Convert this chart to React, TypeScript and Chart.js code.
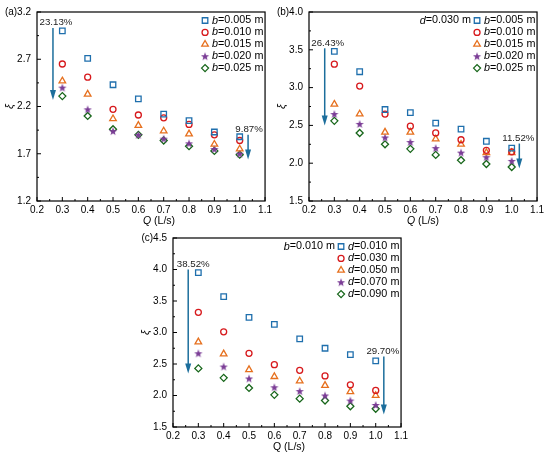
import { useEffect, useRef } from 'react';
import { Chart, registerables } from 'chart.js';
import { drawPoint } from 'chart.js/helpers';

Chart.register(...registerables);

// flow rate Q (L/s)
const flowRates = [0.3, 0.4, 0.5, 0.6, 0.7, 0.8, 0.9, 1.0];
const xTicks = [0.2, 0.3, 0.4, 0.5, 0.6, 0.7, 0.8, 0.9, 1.0, 1.1];
const yTicksA = [1.2, 1.7, 2.2, 2.7, 3.2];
const yTicksB = [1.5, 2.0, 2.5, 3.0, 3.5, 4.0];
const yTicksC = [1.5, 2.0, 2.5, 3.0, 3.5, 4.0, 4.5];

// (a) slit width b
const labelsA = ['b=0.005 m', 'b=0.010 m', 'b=0.015 m', 'b=0.020 m', 'b=0.025 m'];
const a_b005 = [3.0, 2.71, 2.43, 2.28, 2.12, 2.05, 1.93, 1.88];
const a_b010 = [2.65, 2.51, 2.17, 2.11, 2.08, 2.01, 1.9, 1.84];
const a_b015 = [2.47, 2.33, 2.07, 2.0, 1.94, 1.91, 1.8, 1.75];
const a_b020 = [2.4, 2.17, 1.94, 1.9, 1.86, 1.81, 1.75, 1.7];
const a_b025 = [2.31, 2.1, 1.96, 1.9, 1.84, 1.78, 1.73, 1.69];

// (b) d = 0.030 m
const labelsB = labelsA;
const b_b005 = [3.48, 3.21, 2.71, 2.67, 2.53, 2.45, 2.29, 2.2];
const b_b010 = [3.31, 3.02, 2.65, 2.49, 2.4, 2.31, 2.17, 2.15];
const b_b015 = [2.78, 2.65, 2.41, 2.41, 2.32, 2.25, 2.14, 2.14];
const b_b020 = [2.65, 2.52, 2.34, 2.28, 2.2, 2.14, 2.08, 2.03];
const b_b025 = [2.56, 2.4, 2.25, 2.19, 2.11, 2.04, 1.99, 1.95];

// (c) b = 0.010 m
const labelsC = ['d=0.010 m', 'd=0.030 m', 'd=0.050 m', 'd=0.070 m', 'd=0.090 m'];
const c_d010 = [3.95, 3.57, 3.24, 3.13, 2.9, 2.75, 2.65, 2.55];
const c_d030 = [3.32, 3.01, 2.67, 2.49, 2.4, 2.31, 2.17, 2.08];
const c_d050 = [2.85, 2.66, 2.41, 2.3, 2.23, 2.16, 2.06, 2.0];
const c_d070 = [2.67, 2.46, 2.27, 2.13, 2.07, 2.0, 1.92, 1.85];
const c_d090 = [2.43, 2.28, 2.12, 2.01, 1.95, 1.92, 1.83, 1.79];

// reduction arrows
const arrowsA = [
  { q: 0.263, from: 3.03, to: 2.27, text: '23.13%', dx: 3 },
  { q: 1.033, from: 1.9, to: 1.64, text: '9.87%', dx: 1 },
];
const arrowsB = [
  { q: 0.262, from: 3.52, to: 2.5, text: '26.43%', dx: 3 },
  { q: 1.03, from: 2.26, to: 1.93, text: '11.52%', dx: -1 },
];
const arrowsC = [
  { q: 0.26, from: 4.0, to: 2.35, text: '38.52%', dx: 5 },
  { q: 1.032, from: 2.62, to: 1.7, text: '29.70%', dx: -1 },
];

const FONT = '"Liberation Sans", Arial, sans-serif';
const colors = ['#1f6fad', '#d7191c', '#e6701e', '#7b3d96', '#17661a'];
const arrowColor = '#1c6e9c';

function makeStar(color: string) {
  const c = document.createElement('canvas');
  c.width = 10;
  c.height = 10;
  const g = c.getContext('2d')!;
  g.beginPath();
  for (let i = 0; i < 10; i++) {
    const r = i % 2 === 0 ? 4.3 : 1.8;
    const a = -Math.PI / 2 + (i * Math.PI) / 5;
    const px = 5 + r * Math.cos(a);
    const py = 5.4 + r * Math.sin(a);
    if (i === 0) g.moveTo(px, py);
    else g.lineTo(px, py);
  }
  g.closePath();
  g.fillStyle = color;
  g.fill();
  return c;
}

function italicLead(ctx: CanvasRenderingContext2D, s: string, x: number, y: number, size: number, align: 'left' | 'right' | 'center', leadItalic = true) {
  const lead = s[0];
  const rest = s.slice(1);
  ctx.font = `${leadItalic ? 'italic ' : ''}${size}px ${FONT}`;
  const w1 = ctx.measureText(lead).width;
  ctx.font = `${size}px ${FONT}`;
  const w2 = ctx.measureText(rest).width;
  let x0 = x;
  if (align === 'right') x0 = x - w1 - w2;
  if (align === 'center') x0 = x - (w1 + w2) / 2;
  ctx.textAlign = 'left';
  ctx.textBaseline = 'middle';
  ctx.font = `${leadItalic ? 'italic ' : ''}${size}px ${FONT}`;
  ctx.fillText(lead, x0, y);
  ctx.font = `${size}px ${FONT}`;
  ctx.fillText(rest, x0 + w1, y);
}

type Arrow = { q: number; from: number; to: number; text: string; dx: number };

type PanelProps = {
  left: number;
  top: number;
  tag: string;
  yTicks: number[];
  series: number[][];
  labels: string[];
  header?: string;
  arrows: Arrow[];
  italicQ: boolean;
  titleDx: number;
};

function Panel({ left, top, tag, yTicks, series, labels, header, arrows, italicQ, titleDx }: PanelProps) {
  const ref = useRef<HTMLCanvasElement | null>(null);

  useEffect(() => {
    if (!ref.current) return;
    const star = makeStar(colors[3]);
    const styles: any[] = ['rect', 'circle', 'triangle', star, 'rectRot'];
    const radii = [3.9, 3.0, 3.8, 4, 3.5];

    const panelPlugin = {
      id: 'panelDecor',
      afterDraw(chart: any) {
        const ctx: CanvasRenderingContext2D = chart.ctx;
        const area = chart.chartArea;
        const xs = chart.scales.x;
        const ys = chart.scales.y;
        ctx.save();
        // frame
        ctx.strokeStyle = '#000';
        ctx.lineWidth = 1.2;
        ctx.strokeRect(area.left, area.top, area.right - area.left, area.bottom - area.top);
        // inward ticks
        ctx.lineWidth = 1;
        ctx.beginPath();
        xTicks.forEach((v, i) => {
          const px = xs.getPixelForValue(v);
          ctx.moveTo(px, area.bottom);
          ctx.lineTo(px, area.bottom - 4);
          if (i < xTicks.length - 1) {
            const pm = xs.getPixelForValue((v + xTicks[i + 1]) / 2);
            ctx.moveTo(pm, area.bottom);
            ctx.lineTo(pm, area.bottom - 2);
          }
        });
        yTicks.forEach((v, i) => {
          const py = ys.getPixelForValue(v);
          ctx.moveTo(area.left, py);
          ctx.lineTo(area.left + 4, py);
          if (i < yTicks.length - 1) {
            const pm = ys.getPixelForValue((v + yTicks[i + 1]) / 2);
            ctx.moveTo(area.left, pm);
            ctx.lineTo(area.left + 2, pm);
          }
        });
        ctx.stroke();

        // legend
        ctx.fillStyle = '#000';
        const mx = area.right - 60;
        labels.forEach((lab, i) => {
          const y = area.top + 8.5 + i * 11.9;
          ctx.strokeStyle = colors[i];
          ctx.fillStyle = 'rgba(0,0,0,0)';
          ctx.lineWidth = 1.3;
          drawPoint(ctx, { pointStyle: styles[i], radius: radii[i], borderWidth: 1.3, rotation: 0 } as any, mx, y);
          ctx.fillStyle = '#000';
          italicLead(ctx, lab, mx + 7, y, 10.8, 'left');
        });
        if (header) {
          ctx.fillStyle = '#000';
          italicLead(ctx, header, mx - 6, area.top + 8.5, 10.8, 'right');
        }

        // arrows
        arrows.forEach((a) => {
          const px = xs.getPixelForValue(a.q);
          const y1 = ys.getPixelForValue(a.from);
          const y2 = ys.getPixelForValue(a.to);
          ctx.strokeStyle = arrowColor;
          ctx.fillStyle = arrowColor;
          ctx.lineWidth = 1.5;
          ctx.beginPath();
          ctx.moveTo(px, y1);
          ctx.lineTo(px, y2 - 8);
          ctx.stroke();
          ctx.beginPath();
          ctx.moveTo(px - 3, y2 - 10);
          ctx.lineTo(px + 3, y2 - 10);
          ctx.lineTo(px, y2);
          ctx.closePath();
          ctx.fill();
          ctx.fillStyle = '#222';
          ctx.font = `9.7px ${FONT}`;
          ctx.textAlign = 'center';
          ctx.textBaseline = 'bottom';
          ctx.fillText(a.text, px + a.dx, y1 - 0.5);
        });

        // panel tag, left of the top tick label
        ctx.fillStyle = '#000';
        ctx.font = `10px ${FONT}`;
        const topLabel = yTicks[yTicks.length - 1].toFixed(1);
        const wTop = ctx.measureText(topLabel).width;
        ctx.textAlign = 'right';
        ctx.textBaseline = 'middle';
        ctx.fillText(tag, area.left - 6 - wTop, ys.getPixelForValue(yTicks[yTicks.length - 1]));

        // axis titles
        italicLead(ctx, 'Q (L/s)', (area.left + area.right) / 2 + titleDx, area.bottom + 20, 10.5, 'center', italicQ);
        ctx.save();
        ctx.translate(10, (area.top + area.bottom) / 2);
        ctx.rotate(-Math.PI / 2);
        ctx.font = `italic 11px ${FONT}`;
        ctx.textAlign = 'center';
        ctx.textBaseline = 'middle';
        ctx.fillText('ξ', 0, 0);
        ctx.restore();
        ctx.restore();
      },
    };

    const chart = new Chart(ref.current, {
      type: 'scatter',
      data: {
        datasets: series.map((vals, i) => ({
          label: labels[i],
          data: flowRates.map((q, j) => ({ x: q, y: vals[j] })),
          pointStyle: styles[i],
          pointRadius: radii[i],
          pointBorderWidth: 1.3,
          pointBorderColor: colors[i],
          pointBackgroundColor: 'rgba(0,0,0,0)',
          showLine: false,
        })),
      },
      options: {
        animation: false,
        responsive: false,
        events: [],
        layout: { padding: { top: 12, right: 6, left: 0, bottom: 0 } },
        plugins: { legend: { display: false }, tooltip: { enabled: false } },
        scales: {
          x: {
            type: 'linear',
            min: xTicks[0],
            max: xTicks[xTicks.length - 1],
            afterBuildTicks: (s: any) => {
              s.ticks = xTicks.map((v) => ({ value: v }));
            },
            afterFit: (s: any) => {
              s.height = 28;
            },
            ticks: {
              callback: (v: any) => Number(v).toFixed(1),
              font: { family: FONT, size: 10 },
              color: '#000',
              padding: 3,
              maxRotation: 0,
              autoSkip: false,
            },
            grid: { display: false, drawTicks: false },
            border: { display: false },
          },
          y: {
            type: 'linear',
            min: yTicks[0],
            max: yTicks[yTicks.length - 1],
            afterBuildTicks: (s: any) => {
              s.ticks = yTicks.map((v) => ({ value: v }));
            },
            afterFit: (s: any) => {
              s.width = 37;
            },
            ticks: {
              callback: (v: any) => Number(v).toFixed(1),
              font: { family: FONT, size: 10 },
              color: '#000',
              padding: 6,
              autoSkip: false,
            },
            grid: { display: false, drawTicks: false },
            border: { display: false },
          },
        },
      },
      plugins: [panelPlugin],
    } as any);

    return () => {
      chart.destroy();
    };
  }, []);

  return (
    <canvas
      ref={ref}
      width={275}
      height={229}
      style={{ position: 'absolute', left, top, width: 275, height: 229 }}
    />
  );
}

export default function App() {
  return (
    <div style={{ position: 'absolute', left: 0, top: 0, width: 550, height: 459, background: '#fff', overflow: 'hidden' }}>
      <Panel
        left={0}
        top={0}
        tag="(a)"
        yTicks={yTicksA}
        series={[a_b005, a_b010, a_b015, a_b020, a_b025]}
        labels={labelsA}
        arrows={arrowsA}
        italicQ={true}
        titleDx={8}
      />
      <Panel
        left={272}
        top={0}
        tag="(b)"
        yTicks={yTicksB}
        series={[b_b005, b_b010, b_b015, b_b020, b_b025]}
        labels={labelsB}
        header="d=0.030 m"
        arrows={arrowsB}
        italicQ={true}
        titleDx={0}
      />
      <Panel
        left={136}
        top={226}
        tag="(c)"
        yTicks={yTicksC}
        series={[c_d010, c_d030, c_d050, c_d070, c_d090]}
        labels={labelsC}
        header="b=0.010 m"
        arrows={arrowsC}
        italicQ={false}
        titleDx={2}
      />
    </div>
  );
}
